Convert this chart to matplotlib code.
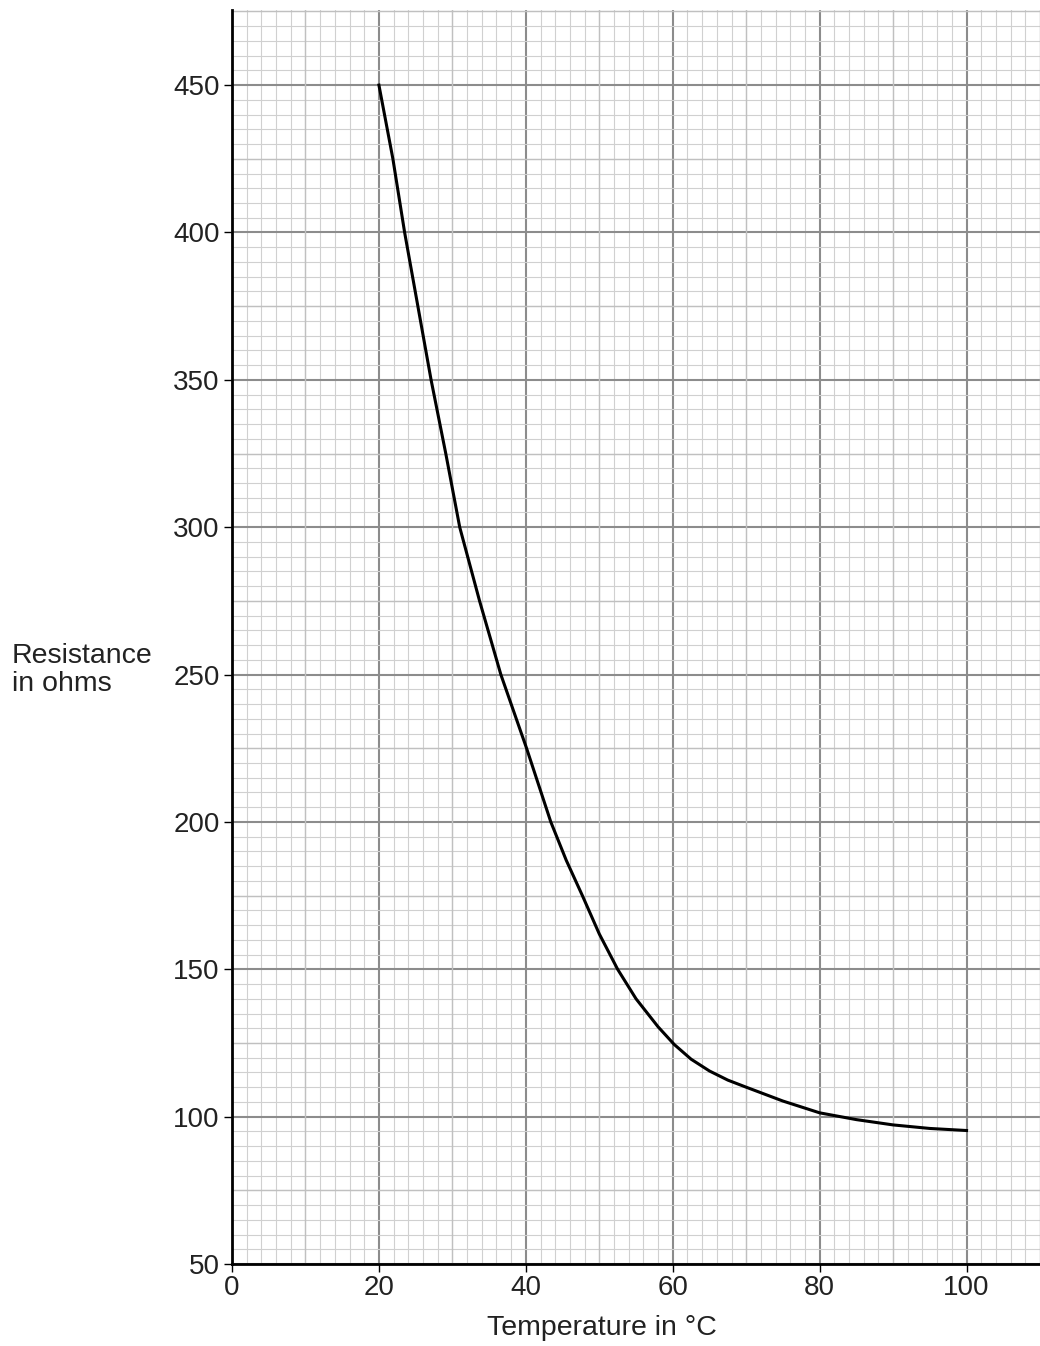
import matplotlib
matplotlib.use('Agg')
import matplotlib.pyplot as plt
import numpy as np

# values
temperature = [20, 21.9, 23.5, 25.3, 27.1, 29.1, 31.0, 33.7, 36.6, 40.1, 43.4,
               45.5, 47.7, 50, 52.5, 55, 58, 60.2, 62.5, 65, 67.5, 70, 75, 80,
               85, 90, 95, 100]
resistance = [450, 425, 400, 375, 350, 325, 300, 275, 250, 225, 200,
              187, 175, 162, 150, 140, 130.5, 124.5, 119.5, 115.5, 112.4, 110, 105.3, 101.3,
              99, 97.2, 96, 95.3]

x_ticks = [0, 20, 40, 60, 80, 100]
y_ticks = [50, 100, 150, 200, 250, 300, 350, 400, 450]


def main():
    plt.rcParams['font.family'] = ['Liberation Sans', 'DejaVu Sans']

    fig = plt.figure(figsize=(10.4, 13.46), dpi=100)
    ax = fig.add_axes([0.2231, 0.0609, 0.7769, 0.9317])
    ax.set_xlim(0, 109.7)
    ax.set_ylim(50, 475.5)

    # graph paper grid: minor, medium, major
    ax.set_xticks(np.arange(0, 111, 2), minor=True)
    ax.set_yticks(np.arange(50, 476, 5), minor=True)
    ax.grid(which='minor', color='#d0d0d0', linewidth=0.8)
    for x in np.arange(10, 111, 20):
        ax.axvline(x, color='#c0c0c0', linewidth=1.0, zorder=0.6)
    for y in np.arange(75, 476, 50):
        ax.axhline(y, color='#c0c0c0', linewidth=1.0, zorder=0.6)
    ax.set_xticks(x_ticks)
    ax.set_yticks(y_ticks)
    ax.grid(which='major', color='#8c8c8c', linewidth=1.5)
    ax.set_axisbelow(True)

    ax.plot(temperature, resistance, color='black', linewidth=2.2, zorder=3,
            solid_joinstyle='round')

    for side in ['top', 'right']:
        ax.spines[side].set_visible(False)
    for side in ['left', 'bottom']:
        ax.spines[side].set_linewidth(2.0)
        ax.spines[side].set_zorder(4)

    ax.tick_params(which='minor', length=0)
    ax.tick_params(which='major', length=6, width=1.0, labelsize=20, colors='black')
    ax.tick_params(axis='x', pad=2)
    ax.tick_params(axis='y', pad=3)
    for lab in ax.get_xticklabels() + ax.get_yticklabels():
        lab.set_color('#222222')

    fig.text(0.0115, 0.502, 'Resistance\nin ohms', fontsize=20.5, ha='left', va='center',
             linespacing=1.1, color='#222222')
    fig.text(0.579, 0.0134, 'Temperature in °C', fontsize=20.5, ha='center', va='center',
             color='#222222')

    fig.savefig('out.png', dpi=100)


if __name__ == '__main__':
    main()
